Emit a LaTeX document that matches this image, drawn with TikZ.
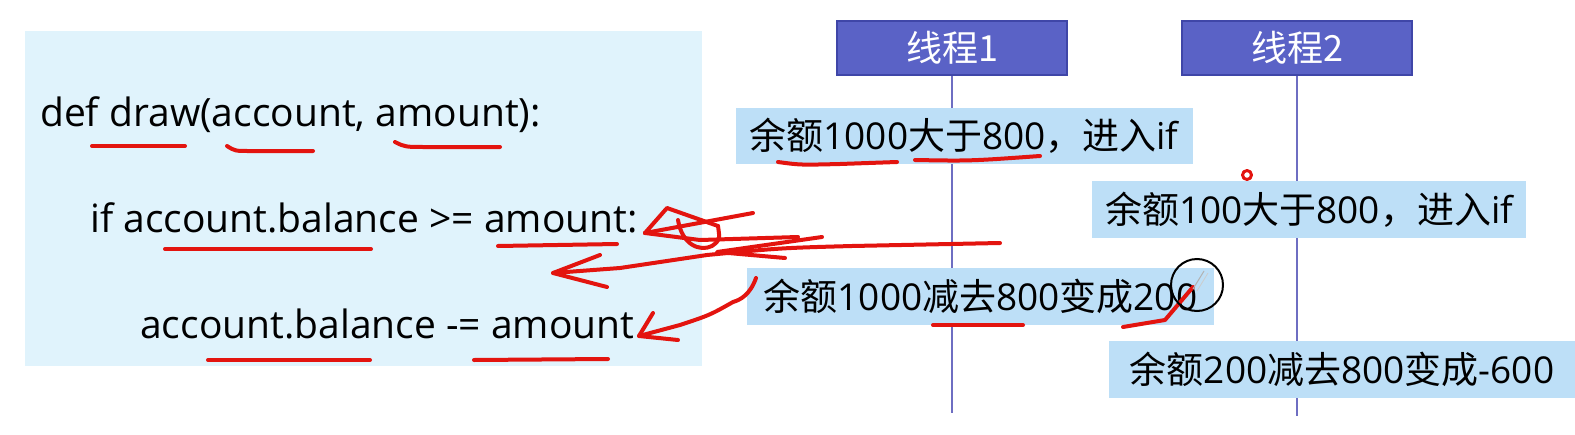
\documentclass[tikz,border=0pt]{standalone}
\usepackage{fontspec}
\setmainfont{Open Sans}
\newfontfamily\cjk{Noto Sans CJK SC}
\definecolor{codebg}{HTML}{E0F3FC}
\definecolor{labbg}{HTML}{BDDFF7}
\definecolor{thrbg}{HTML}{5A62C6}
\definecolor{thrbd}{HTML}{3F46A8}
\definecolor{lifec}{HTML}{6E6EC2}
\definecolor{pen}{HTML}{E3140F}
\tikzset{
  codebox/.style={fill=codebg, draw=none, inner sep=0pt, anchor=north west},
  codeline/.style={anchor=base west, inner sep=0pt, font=\fontsize{39}{42}\selectfont},
  thread/.style={fill=thrbg, draw=thrbd, line width=1.5pt, text=white, minimum width=230pt, minimum height=54pt, inner sep=0pt, font=\fontsize{36}{40}\selectfont},
  lifeline/.style={draw=lifec, line width=1.8pt},
  labbox/.style={fill=labbg, draw=none, inner sep=0pt, minimum height=57pt, font=\fontsize{37}{40}\selectfont},
  ink/.style={draw=pen, line width=4pt, line cap=round, line join=round},
}
\begin{document}
\begin{tikzpicture}[x=1pt, y=-1pt]
\useasboundingbox (0,0) rectangle (1575,434);
\fill[white] (0,0) rectangle (1575,434);
% code box
\node[codebox, minimum width=677pt, minimum height=335pt] (code) at (25,31) {};
\node[codeline] (l1) at (40,126) {def draw(account, amount):};
\node[codeline] (l2) at (90,232) {if account.balance >= amount:};
\node[codeline] (l3) at (140,338) {account.balance -= amount};
% threads
\node[thread] (t1) at (952,48) {\cjk 线程1};
\node[thread] (t2) at (1297,48) {\cjk 线程2};
\coordinate (e1) at (952,413);
\coordinate (e2) at (1297,416);
\draw[lifeline] (t1.south) -- (e1);
\draw[lifeline] (t2.south) -- (e2);
% labels
\node[labbox, minimum width=457pt, minimum height=56pt] (a1) at (964,136) {{\cjk 余额}1000{\cjk 大于}800{\cjk ，进入}if};
\node[labbox, minimum width=434pt] (a2) at (1309,209.5) {{\cjk 余额}100{\cjk 大于}800{\cjk ，进入}if};
\node[labbox, minimum width=467pt] (a3) at (980.5,296.5) {{\cjk 余额}1000{\cjk 减去}800{\cjk 变成}200};
\node[labbox, minimum width=466pt] (a4) at (1342,369.5) {{\cjk 余额}200{\cjk 减去}800{\cjk 变成}-600};
% hand-drawn ink: code underlines
\draw[ink] (92,146) -- (185,146);
\draw[ink] (227,146) .. controls (235,151) .. (250,151) -- (313,151);
\draw[ink] (395,142) .. controls (405,147) .. (427,147) -- (500,147);
\draw[ink] (165,249) -- (371,249);
\draw[ink] (498,246) -- (617,244);
\draw[ink] (208,360) -- (370,360);
\draw[ink] (474,360) -- (608,359);
% scribble near "amount:"
\draw[ink] (645,233) -- (667,208) -- (718,226);
\draw[ink] (678,220) .. controls (682,245) and (700,252) .. (712,246) .. controls (720,240) .. (718,226);
\draw[ink] (645,233) -- (753,213);
\draw[ink] (645,233) -- (700,240) -- (798,237);
\draw[ink] (822,237) -- (717,252) -- (785,258);
% long arrow
\draw[ink] (1000,243) -- (852,246) .. controls (780,248) .. (707,255) -- (620,268) -- (553,273);
\draw[ink] (600,255) -- (553,273) -- (607,287);
% second arrow
\draw[ink] (756,278) .. controls (750,295) and (740,300) .. (733,302) .. controls (710,315) .. (680,325) -- (639,336);
\draw[ink] (653,313) -- (639,336) -- (678,340);
% label underlines
\draw[ink] (778,162) .. controls (800,165) .. (840,164) -- (897,162);
\draw[ink] (915,160) .. controls (970,161) .. (1040,156);
\draw[ink, line width=3pt] (1247,175) circle (4.5pt);
\draw[ink] (933,325) -- (1023,325);
\draw[ink] (1123,327) -- (1165,320) -- (1193,287);
% cursor circle
\draw[black, line width=2pt] (1197,285) circle (26pt);
\draw[gray!60, line width=1pt] (1193,289) -- (1204,271);
\draw[gray!40, line width=0.8pt] (1197,291) -- (1208,273);
\end{tikzpicture}
\end{document}
